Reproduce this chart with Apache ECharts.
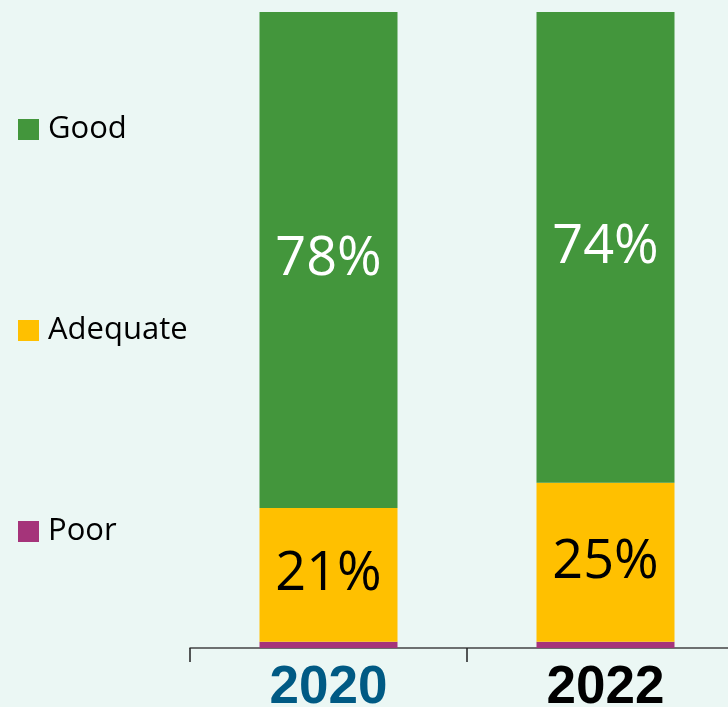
<!DOCTYPE html>
<html>
<head>
<meta charset="utf-8">
<script src="https://cdn.jsdelivr.net/npm/echarts@6/dist/echarts.min.js"></script>
<style>
html,body{margin:0;padding:0;background:#EBF7F4;}
#c{width:728px;height:707px;}
</style>
</head>
<body>
<div id="c"></div>
<script>
var categories = ['2020', '2022'];
var poor = [1, 1];
var adequate = [21, 25];
var good = [78, 74];
var labelColors = ['#005A84', '#000000'];

var chart = echarts.init(document.getElementById('c'));
var labelFont = 'Open Sans, sans-serif';
chart.setOption({
  backgroundColor: '#EBF7F4',
  animation: false,
  legend: {
    orient: 'vertical',
    left: 18,
    top: 114,
    padding: 0,
    data: ['Good', 'Adequate', 'Poor'],
    icon: 'rect',
    itemWidth: 21,
    itemHeight: 21,
    itemGap: 170,
    textStyle: { fontSize: 31, lineHeight: 30, color: '#000', fontFamily: labelFont, padding: [0, 0, 0, 4] }
  },
  grid: { left: 190, top: 12, bottom: 59, right: -16, outerBoundsMode: 'none', containLabel: false },
  xAxis: {
    type: 'category',
    data: categories,
    axisLine: { lineStyle: { color: '#444', width: 1.5 } },
    axisTick: { show: true, length: 14, lineStyle: { color: '#222', width: 1.5 } },
    axisLabel: {
      fontSize: 53,
      fontWeight: 'bold',
      fontFamily: 'Liberation Sans, Arial, sans-serif',
      margin: 14,
      color: function (v, i) { return labelColors[i]; }
    }
  },
  yAxis: { type: 'value', min: 0, max: 100, show: false, splitLine: { show: false } },
  series: [
    { name: 'Poor', type: 'bar', stack: 's', data: poor, barWidth: 138, itemStyle: { color: '#A5347A' } },
    { name: 'Adequate', type: 'bar', stack: 's', data: adequate, barWidth: 138, itemStyle: { color: '#FFC000' },
      label: { show: true, position: 'inside', formatter: '{c}%', color: '#000', fontSize: 54, fontFamily: labelFont } },
    { name: 'Good', type: 'bar', stack: 's', data: good, barWidth: 138, itemStyle: { color: '#43963C' },
      label: { show: true, position: 'inside', formatter: '{c}%', color: '#fff', fontSize: 54, fontFamily: labelFont } }
  ]
});
</script>
</body>
</html>
